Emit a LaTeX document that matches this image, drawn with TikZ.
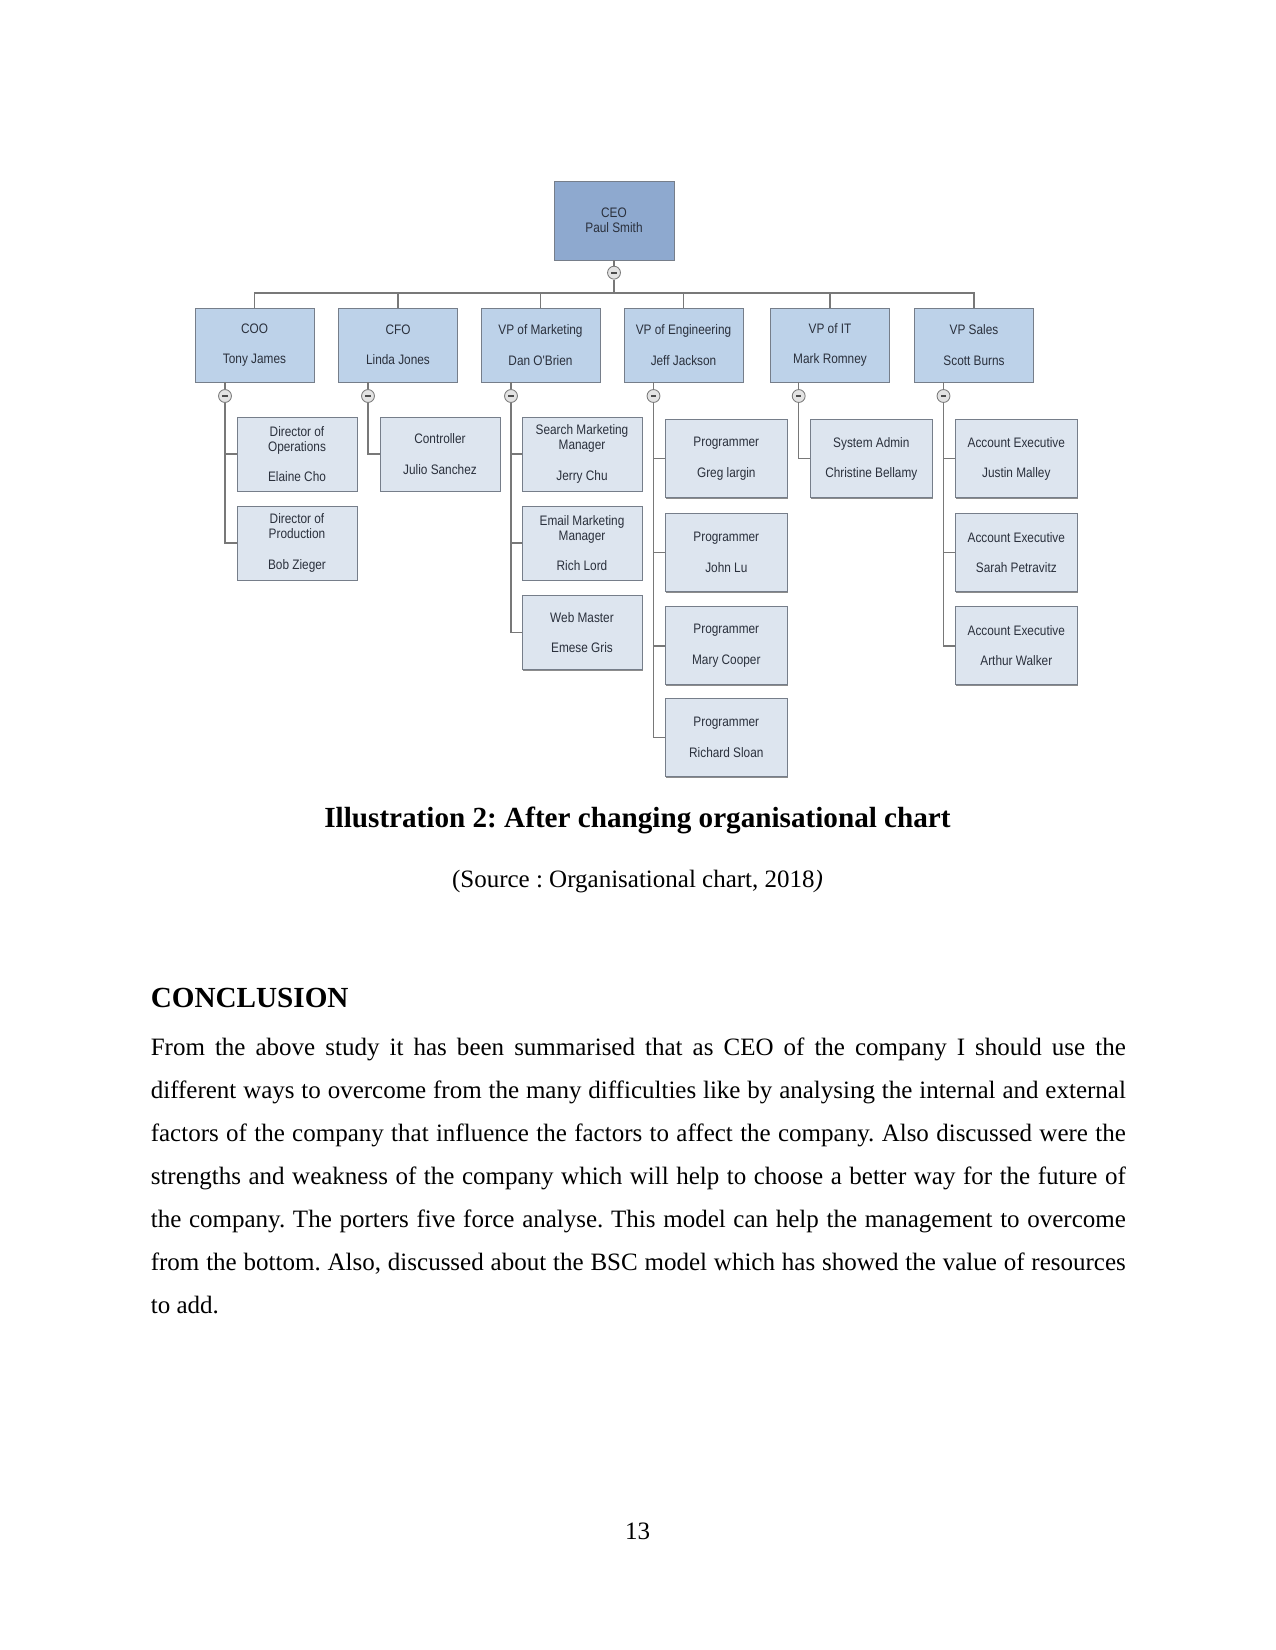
\documentclass[tikz,border=0pt]{standalone}
\usepackage{fontspec}
\setmainfont{Liberation Serif}
\newfontfamily\chartfont[FakeStretch=0.86]{Liberation Sans}
\usepackage{xcolor}
\usepackage{tikz}
\usetikzlibrary{shadows}
\definecolor{ocA}{RGB}{142,169,207}
\definecolor{ocB}{RGB}{189,210,233}
\definecolor{ocC}{RGB}{221,229,239}
\definecolor{ocEdge}{RGB}{118,126,138}
\definecolor{ocLine}{RGB}{120,120,120}
\definecolor{ocText}{RGB}{42,48,60}
\frenchspacing

\begin{document}
\begin{tikzpicture}[x=0.48pt, y=-0.48pt,
    ocbox/.style={draw=ocEdge, line width=0.4pt, text=ocText, align=center, inner sep=1pt,
                  font=\chartfont\fontsize{6.6}{7.3}\selectfont,
                  drop shadow={shadow xshift=0.4pt, shadow yshift=-0.7pt, fill=black!50, opacity=0.9}},
    head/.style={ocbox, fill=ocA, minimum width=57.6pt, minimum height=37.9pt},
    vp/.style={ocbox, fill=ocB, minimum width=57.1pt, minimum height=35.5pt},
    staff/.style={ocbox, fill=ocC, minimum width=57.6pt, minimum height=35.5pt},
    stafft/.style={staff, minimum width=58.6pt, minimum height=37.4pt},
    tog/.style={circle, draw=ocLine, fill=gray!22, line width=0.4pt, minimum size=6.2pt, inner sep=0pt,
                path picture={\fill[black!70] ([xshift=-1.3pt,yshift=-0.5pt]path picture bounding box.center)
                              rectangle ([xshift=1.3pt,yshift=0.5pt]path picture bounding box.center);}},
    conn/.style={draw=ocLine, line width=0.7pt},
    body/.style={inner sep=0pt, font=\fontsize{12}{20.7}\selectfont}
  ]
  \useasboundingbox (0,0) rectangle (1275,1650);

  \node[head] (ceo) at (614,220.5) {CEO\\Paul Smith};
  \node[tog] (tceo) at (614,272.7) {};
  \coordinate (bus) at (614,293);

  \node[vp] (coo)  at (254.5,345) {COO\\[7.3pt]Tony James};
  \node[vp] (cfo)  at (398,345)   {CFO\\[7.3pt]Linda Jones};
  \node[vp] (vpm)  at (540.5,345) {VP of Marketing\\[7.3pt]Dan O'Brien};
  \node[vp] (vpe)  at (683.5,345) {VP of Engineering\\[7.3pt]Jeff Jackson};
  \node[vp] (vpit) at (830,345)   {VP of IT\\[7.3pt]Mark Romney};
  \node[vp] (vps)  at (974,345)   {VP Sales\\[7.3pt]Scott Burns};

  \node[tog] (tcoo)  at (225,396)   {};
  \node[tog] (tcfo)  at (368,396)   {};
  \node[tog] (tvpm)  at (511,396)   {};
  \node[tog] (tvpe)  at (653.5,396) {};
  \node[tog] (tvpit) at (798.7,396) {};
  \node[tog] (tvps)  at (943.5,396) {};

  \node[staff] (dops)  at (297,454) {Director of\\Operations\\[7.3pt]Elaine Cho};
  \node[staff] (dprod) at (297,543) {Director of\\Production\\[7.3pt]Bob Zieger};
  \node[staff] (ctrl)  at (440,454) {Controller\\[7.3pt]Julio Sanchez};
  \node[staff] (smm)   at (582,454)   {Search Marketing\\Manager\\[7.3pt]Jerry Chu};
  \node[staff] (emm)   at (582,543)   {Email Marketing\\Manager\\[7.3pt]Rich Lord};
  \node[staff] (web)   at (582,632.5) {Web Master\\[7.3pt]Emese Gris};
  \node[stafft] (pg1) at (726.3,458.7) {Programmer\\[7.3pt]Greg largin};
  \node[stafft] (pg2) at (726.3,552.5) {Programmer\\[7.3pt]John Lu};
  \node[stafft] (pg3) at (726.3,645.8) {Programmer\\[7.3pt]Mary Cooper};
  \node[stafft] (pg4) at (726.3,737.5) {Programmer\\[7.3pt]Richard Sloan};
  \node[stafft] (sysad) at (871.3,458.7) {System Admin\\[7.3pt]Christine Bellamy};
  \node[stafft] (ae1) at (1016.3,458.7) {Account Executive\\[7.3pt]Justin Malley};
  \node[stafft] (ae2) at (1016.3,552.5) {Account Executive\\[7.3pt]Sarah Petravitz};
  \node[stafft] (ae3) at (1016.3,645.8) {Account Executive\\[7.3pt]Arthur Walker};

  \draw[conn] (ceo) -- (tceo);
  \draw[conn] (tceo) -- (bus);
  \foreach \v in {coo,cfo,vpm,vpe,vpit,vps}
    \draw[conn] (\v.north) |- (bus);
  \foreach \v/\t in {coo/tcoo,cfo/tcfo,vpm/tvpm,vpe/tvpe,vpit/tvpit,vps/tvps}
    \draw[conn] (\v.south -| \t) -- (\t);
  \foreach \t/\c in {tcoo/dops,tcoo/dprod,tcfo/ctrl,tvpm/smm,tvpm/emm,tvpm/web,
                     tvpe/pg1,tvpe/pg2,tvpe/pg3,tvpe/pg4,tvpit/sysad,tvps/ae1,tvps/ae2,tvps/ae3}
    \draw[conn] (\t) |- (\c.west);

  \node[body, font=\fontsize{14}{16}\selectfont\bfseries, anchor=base] (cap) at (637.5,827.5)
       {Illustration 2: After changing organisational chart};
  \node[body, anchor=base] (src) at (637.5,887) {(Source : Organisational chart, 2018\textit{)}};
  \node[body, font=\fontsize{14}{16}\selectfont\bfseries, anchor=base west] (concl) at (150.4,1007.7)
       {CONCLUSION};
  \node[body, anchor=base west, text width=468pt, align=justify] (para) at (150.4,1055)
       {From the above study it has been summarised that as CEO of the company I should use the\linebreak
        different ways to overcome from the many difficulties like by analysing the internal and external\linebreak
        factors of the company that influence the factors to affect the company. Also discussed were the\linebreak
        strengths and weakness of the company which will help to choose a better way for the future of\linebreak
        the company. The porters five force analyse. This model can help the management to overcome\linebreak
        from the bottom. Also, discussed about the BSC model which has showed the value of resources\linebreak
        to add.};
  \node[body, anchor=base] (pg) at (637.5,1539.3) {13};
\end{tikzpicture}
\end{document}
